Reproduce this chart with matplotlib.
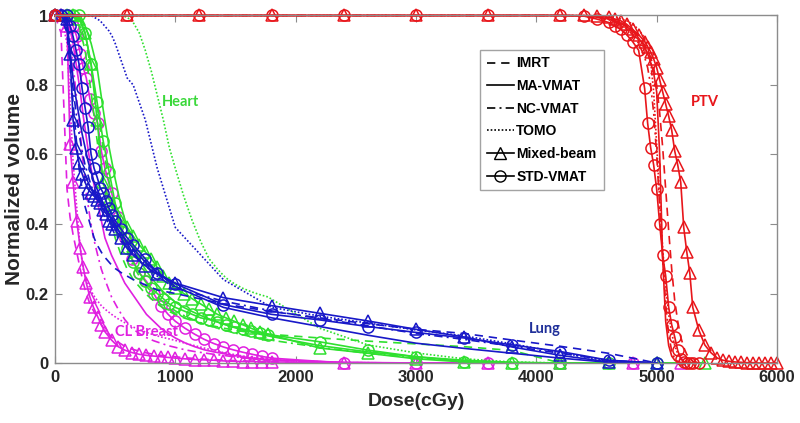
import numpy as np
import matplotlib.pyplot as plt
from matplotlib.lines import Line2D

nan = np.nan

techniques = ['IMRT', 'MA-VMAT', 'NC-VMAT', 'TOMO', 'Mixed-beam', 'STD-VMAT']
x_ticks = [0, 1000, 2000, 3000, 4000, 5000, 6000]
y_ticks = [0, 0.2, 0.4, 0.6, 0.8, 1]
y_tick_labels = ['0', '0.2', '0.4', '0.6', '0.8', '1']

# ---- CL Breast ----
cl_dose = [0, 50, 100, 125, 150, 180, 210, 235, 260, 290, 320, 355, 385, 415, 470, 525, 580, 640, 700, 760,
           820, 880, 940, 1000, 1080, 1160, 1240, 1320, 1400, 1480, 1560, 1640, 1720, 1800, 2400, 3000, 3600,
           4200, 4800, 5200]
cl_imrt = [1, 0.95, 0.5, 0.42, 0.37, 0.32, 0.27, 0.23, 0.2, 0.17, 0.15, 0.13, 0.11, 0.095, 0.075, 0.06, 0.048,
           0.04, 0.034, 0.029, 0.025, 0.022, 0.02, 0.018, 0.015, 0.013, 0.011, 0.01, 0.008, 0.007, 0.006, 0.005,
           0.004, 0.003, 0, 0, 0, 0, 0, 0]
cl_ma = [1, 1, 0.99, 0.96, 0.92, 0.85, 0.78, 0.71, 0.65, 0.58, 0.52, 0.46, 0.41, 0.36, 0.31, 0.27, 0.23, 0.2,
         0.17, 0.14, 0.12, 0.1, 0.085, 0.072, 0.058, 0.047, 0.038, 0.032, 0.027, 0.022, 0.018, 0.014, 0.011,
         0.009, 0.002, 0, 0, 0, 0, 0]
cl_nc = [1, 1, 0.98, 0.93, 0.86, 0.76, 0.66, 0.57, 0.49, 0.42, 0.36, 0.31, 0.27, 0.24, 0.19, 0.155, 0.125, 0.1,
         0.085, 0.073, 0.064, 0.057, 0.05, 0.045, 0.038, 0.033, 0.029, 0.025, 0.022, 0.018, 0.015, 0.012, 0.01,
         0.008, 0.001, 0, 0, 0, 0, 0]
cl_tomo = [1, 1, 0.92, 0.75, 0.58, 0.45, 0.33, 0.27, 0.24, 0.215, 0.195, 0.178, 0.165, 0.155, 0.14, 0.127,
           0.116, 0.105, 0.096, 0.088, 0.081, 0.075, 0.07, 0.065, 0.057, 0.05, 0.043, 0.036, 0.03, 0.025, 0.02,
           0.016, 0.012, 0.009, 0.001, 0, 0, 0, 0, 0]
cl_mixed = [1, 1, 0.97, 0.63, 0.52, 0.41, 0.33, 0.275, 0.23, 0.19, 0.16, 0.133, 0.11, 0.09, 0.066, 0.047, 0.037,
            0.03, 0.025, 0.022, 0.02, 0.018, 0.016, 0.014, 0.012, 0.01, 0.009, 0.008, 0.006, 0.005, 0.004, 0.004,
            0.003, 0.003, 0.001, 0, 0, 0, 0, 0]
cl_std = [1, 1, 1, 0.99, 0.97, 0.94, 0.89, 0.85, 0.82, 0.76, 0.72, 0.69, 0.61, 0.56, 0.49, 0.42, 0.36, 0.3,
          0.26, 0.235, 0.2, 0.165, 0.14, 0.12, 0.1, 0.083, 0.068, 0.056, 0.046, 0.038, 0.031, 0.025, 0.019,
          0.014, 0, 0, 0, 0, 0, nan]

# ---- Heart ----
heart_dose = [0, 100, 150, 200, 250, 300, 350, 400, 450, 500, 550, 600, 650, 700, 750, 800, 850, 900, 950, 1000,
              1070, 1140, 1210, 1280, 1350, 1420, 1490, 1560, 1630, 1700, 1770, 2200, 2600, 3000, 3400, 3800,
              4200, 4600, 5000, 5400]
heart_imrt = [1, 1, 1, 0.97, 0.9, 0.78, 0.64, 0.52, 0.43, 0.36, 0.31, 0.27, 0.24, 0.22, 0.2, 0.185, 0.17, 0.158,
              0.148, 0.14, 0.13, 0.122, 0.115, 0.109, 0.104, 0.099, 0.095, 0.091, 0.088, 0.085, 0.083, 0.072,
              0.063, 0.055, 0.047, 0.036, 0, 0, 0, 0]
heart_ma = [1, 1, 1, 0.995, 0.97, 0.92, 0.85, 0.73, 0.62, 0.53, 0.45, 0.39, 0.34, 0.3, 0.27, 0.245, 0.225, 0.205,
            0.19, 0.175, 0.16, 0.148, 0.137, 0.127, 0.118, 0.11, 0.102, 0.095, 0.089, 0.083, 0.078, 0.05, 0.032,
            0.018, 0.008, 0.002, 0, 0, 0, 0]
heart_nc = [1, 1, 1, 0.98, 0.93, 0.85, 0.74, 0.62, 0.52, 0.44, 0.37, 0.32, 0.28, 0.25, 0.225, 0.205, 0.19, 0.175,
            0.162, 0.15, 0.137, 0.126, 0.116, 0.107, 0.1, 0.093, 0.087, 0.081, 0.076, 0.071, 0.067, 0.045, 0.028,
            0.015, 0.006, 0.001, 0, 0, 0, 0]
heart_tomo = [1, 1, 1, 1, 1, 1, 1, 1, 1, 1, 1, 0.995, 0.98, 0.95, 0.9, 0.84, 0.77, 0.7, 0.62, 0.56, 0.48, 0.41,
              0.35, 0.3, 0.27, 0.245, 0.228, 0.215, 0.205, 0.197, 0.19, 0.1, 0.052, 0.029, 0.012, 0.003, 0, 0, 0, 0]
heart_mixed = [1, 1, 1, 0.99, 0.95, 0.86, 0.7, 0.52, 0.47, 0.44, 0.41, 0.39, 0.365, 0.34, 0.32, 0.3, 0.275, 0.25,
               0.23, 0.215, 0.2, 0.185, 0.17, 0.155, 0.14, 0.13, 0.12, 0.11, 0.1, 0.09, 0.083, 0.043, 0.028, 0.012,
               0.003, 0, 0, 0, 0, 0]
heart_std = [1, 1, 1, 1, 0.95, 0.86, 0.75, 0.64, 0.55, 0.46, 0.38, 0.33, 0.29, 0.26, 0.235, 0.215, 0.2, 0.185,
             0.17, 0.16, 0.15, 0.14, 0.13, 0.125, 0.118, 0.11, 0.104, 0.098, 0.092, 0.087, 0.082, 0.061, 0.037,
             0.018, 0.004, 0, 0, 0, 0, nan]

# ---- Lung ----
lung_dose = [0, 50, 100, 125, 150, 175, 200, 225, 250, 275, 300, 325, 350, 375, 400, 425, 450, 475, 500, 550,
             600, 650, 750, 850, 1000, 1400, 1800, 2200, 2600, 3000, 3400, 3800, 4200, 4600, 5000]
lung_imrt = [1, 1, 0.95, 0.85, 0.75, 0.65, 0.56, 0.5, 0.45, 0.42, 0.39, 0.36, 0.34, 0.325, 0.31, 0.3, 0.29, 0.28,
             0.272, 0.26, 0.25, 0.24, 0.225, 0.21, 0.2, 0.17, 0.148, 0.13, 0.113, 0.097, 0.085, 0.066, 0.048,
             0.028, 0]
lung_ma = [1, 1, 0.97, 0.9, 0.82, 0.76, 0.71, 0.66, 0.62, 0.58, 0.55, 0.52, 0.5, 0.48, 0.46, 0.44, 0.425, 0.41,
           0.395, 0.37, 0.35, 0.33, 0.29, 0.26, 0.22, 0.16, 0.13, 0.105, 0.08, 0.057, 0.042, 0.028, 0.014, 0.002, 0]
lung_nc = [1, 1, 0.96, 0.88, 0.79, 0.72, 0.66, 0.61, 0.57, 0.54, 0.51, 0.49, 0.47, 0.45, 0.43, 0.415, 0.4,
           0.385, 0.37, 0.35, 0.33, 0.315, 0.28, 0.25, 0.215, 0.178, 0.15, 0.128, 0.107, 0.085, 0.068, 0.048,
           0.028, 0.008, 0]
lung_tomo = [1, 1, 1, 1, 1, 1, 1, 1, 1, 1, 1, 0.995, 0.99, 0.985, 0.975, 0.965, 0.955, 0.94, 0.92, 0.87, 0.82,
             0.8, 0.7, 0.56, 0.39, 0.24, 0.16, 0.135, 0.115, 0.095, 0.078, 0.055, 0.03, 0.005, 0]
lung_mixed = [1, 1, 0.99, 0.89, 0.7, 0.62, 0.575, 0.545, 0.52, 0.5, 0.49, 0.48, 0.47, 0.46, 0.44, 0.43, 0.41,
              0.4, 0.385, 0.36, 0.33, 0.31, 0.28, 0.255, 0.23, 0.188, 0.165, 0.143, 0.121, 0.097, 0.075, 0.046,
              0.022, 0.003, 0]
lung_std = [1, 1, 1, 0.97, 0.94, 0.9, 0.86, 0.79, 0.735, 0.68, 0.6, 0.56, 0.535, 0.505, 0.49, 0.465, 0.445,
            0.425, 0.41, 0.385, 0.36, 0.34, 0.3, 0.26, 0.228, 0.168, 0.14, 0.124, 0.105, 0.088, 0.072, 0.052,
            0.033, 0.008, 0]

# ---- PTV ----
ptv_dose = [0, 600, 1200, 1800, 2400, 3000, 3600, 4200, 4400, 4500, 4600, 4650, 4700, 4750, 4800, 4850, 4900,
            4925, 4950, 4975, 5000, 5025, 5050, 5075, 5100, 5125, 5150, 5175, 5200, 5225, 5250, 5275, 5300, 5350,
            5400, 5450, 5500, 5550, 5600, 5650, 5700, 5750, 5800, 5850, 5900, 5950, 6000]
ptv_imrt = [1, 1, 1, 1, 1, 1, 1, 1, 0.999, 0.996, 0.99, 0.986, 0.98, 0.97, 0.958, 0.94, 0.915, 0.9, 0.88, 0.85,
            0.8, 0.72, 0.62, 0.5, 0.38, 0.27, 0.18, 0.12, 0.075, 0.045, 0.025, 0.012, 0.005, 0,
            nan, nan, nan, nan, nan, nan, nan, nan, nan, nan, nan, nan, nan]
ptv_ma = [1, 1, 1, 1, 1, 1, 1, 1, 0.999, 0.996, 0.99, 0.985, 0.978, 0.968, 0.955, 0.935, 0.91, 0.89, 0.865, 0.835,
          0.78, 0.6, 0.3, 0.12, 0.05, 0.02, 0.008, 0.003, 0.001, 0, 0,
          nan, nan, nan, nan, nan, nan, nan, nan, nan, nan, nan, nan, nan, nan, nan, nan]
ptv_nc = [1, 1, 1, 1, 1, 1, 1, 1, 0.999, 0.995, 0.988, 0.982, 0.973, 0.962, 0.945, 0.92, 0.88, 0.85, 0.8, 0.72,
          0.6, 0.45, 0.3, 0.17, 0.08, 0.035, 0.012, 0.004, 0.001, 0, 0,
          nan, nan, nan, nan, nan, nan, nan, nan, nan, nan, nan, nan, nan, nan, nan, nan]
ptv_tomo = [1, 1, 1, 1, 1, 1, 1, 1, 1, 0.999, 0.997, 0.995, 0.99, 0.985, 0.975, 0.96, 0.935, 0.91, 0.87, 0.78,
            0.63, 0.47, 0.33, 0.22, 0.14, 0.085, 0.05, 0.027, 0.013, 0.006, 0.002, 0, 0,
            nan, nan, nan, nan, nan, nan, nan, nan, nan, nan, nan, nan, nan, nan]
ptv_mixed = [1, 1, 1, 1, 1, 1, 1, 1, 1, 0.998, 0.995, 0.99, 0.985, 0.975, 0.96, 0.945, 0.925, 0.91, 0.895, 0.875,
             0.85, 0.815, 0.78, 0.745, 0.71, 0.67, 0.61, 0.57, 0.52, 0.39, 0.32, 0.26, 0.16, 0.095, 0.052, 0.03,
             0.015, 0.008, 0.005, 0.003, 0.002, 0.001, 0.001, 0, 0, 0, 0]
ptv_std = [1, 1, 1, 1, 1, 1, 1, 1, 0.998, 0.99, 0.98, 0.97, 0.96, 0.945, 0.925, 0.9, 0.79, 0.69, 0.62, 0.57,
           0.5, 0.4, 0.31, 0.25, 0.16, 0.11, 0.075, 0.036, 0.012, 0.004, 0.001, 0, 0, 0,
           nan, nan, nan, nan, nan, nan, nan, nan, nan, nan, nan, nan, nan]

structures = [
    (cl_dose, [cl_imrt, cl_ma, cl_nc, cl_tomo, cl_mixed, cl_std], '#e020e0'),
    (heart_dose, [heart_imrt, heart_ma, heart_nc, heart_tomo, heart_mixed, heart_std], '#2fe02f'),
    (lung_dose, [lung_imrt, lung_ma, lung_nc, lung_tomo, lung_mixed, lung_std], '#1818c8'),
    (ptv_dose, [ptv_imrt, ptv_ma, ptv_nc, ptv_tomo, ptv_mixed, ptv_std], '#e8161b'),
]

# line style per technique: IMRT dashed, MA solid, NC dash-dot, TOMO dotted, mixed triangles, STD circles
dash_styles = [(0, (5, 3.5)), '-', (0, (5, 2.5, 1.2, 2.5)), (0, (1, 1.2)), '-', '-']
marker_styles = ['', '', '', '', '^', 'o']

plt.rcParams['font.family'] = ['Liberation Sans', 'DejaVu Sans']

fig = plt.figure(figsize=(8, 4.23), dpi=100)
ax = fig.add_axes([55 / 800, 60 / 423, 722 / 800, 347.5 / 423])

for dose, series, color in structures:
    for vol, ls, mk in zip(series, dash_styles, marker_styles):
        ax.plot(dose, vol, color=color, linestyle=ls, linewidth=1.2, marker=mk, markersize=8,
                markerfacecolor='none', markeredgewidth=1.1, clip_on=False)

ax.set_xlim(0, 6000)
ax.set_ylim(0, 1)
ax.set_xticks(x_ticks)
ax.set_yticks(y_ticks)
ax.set_yticklabels(y_tick_labels)
ax.tick_params(direction='in', top=True, right=True, length=5, color='#8c8c8c', labelsize=12,
               labelcolor='#262626', pad=5)
for lab in ax.get_xticklabels() + ax.get_yticklabels():
    lab.set_fontweight('bold')
for sp in ax.spines.values():
    sp.set_color('#8c8c8c')
    sp.set_linewidth(1.0)

ax.set_xlabel('Dose(cGy)', fontsize=14, fontweight='bold', color='#262626', labelpad=6)
ax.set_ylabel('Normalized volume', fontsize=15, fontweight='bold', color='#262626', labelpad=1)

lbl_font = ['Lato', 'DejaVu Sans']
ax.text(1040, 0.752, 'Heart', color='#3ad83a', fontsize=10.5, fontweight='bold', family=lbl_font,
        ha='center', va='center')
ax.text(5400, 0.75, 'PTV', color='#e8161b', fontsize=10.5, fontweight='bold', family=lbl_font,
        ha='center', va='center')
ax.text(4073, 0.098, 'Lung', color='#1f2f99', fontsize=10.5, fontweight='bold', family=lbl_font,
        ha='center', va='center')
ax.text(763, 0.088, 'CL Breast', color='#e020e0', fontsize=10.5, fontweight='bold', family=lbl_font,
        ha='center', va='center')

handles = [Line2D([], [], color='k', linestyle=ls, marker=mk, markersize=8, markerfacecolor='none',
                  linewidth=1.2) for ls, mk in zip(dash_styles, marker_styles)]
leg = ax.legend(handles, techniques, loc='upper left', bbox_to_anchor=(0.589, 0.902), fancybox=False,
                prop={'weight': 'bold', 'size': 10}, handlelength=1.9, handletextpad=0.2,
                labelspacing=0.62, borderpad=0.5, borderaxespad=0)
leg.get_frame().set_edgecolor('#8c8c8c')
leg.get_frame().set_linewidth(1.0)

fig.savefig('out.png', dpi=100)
